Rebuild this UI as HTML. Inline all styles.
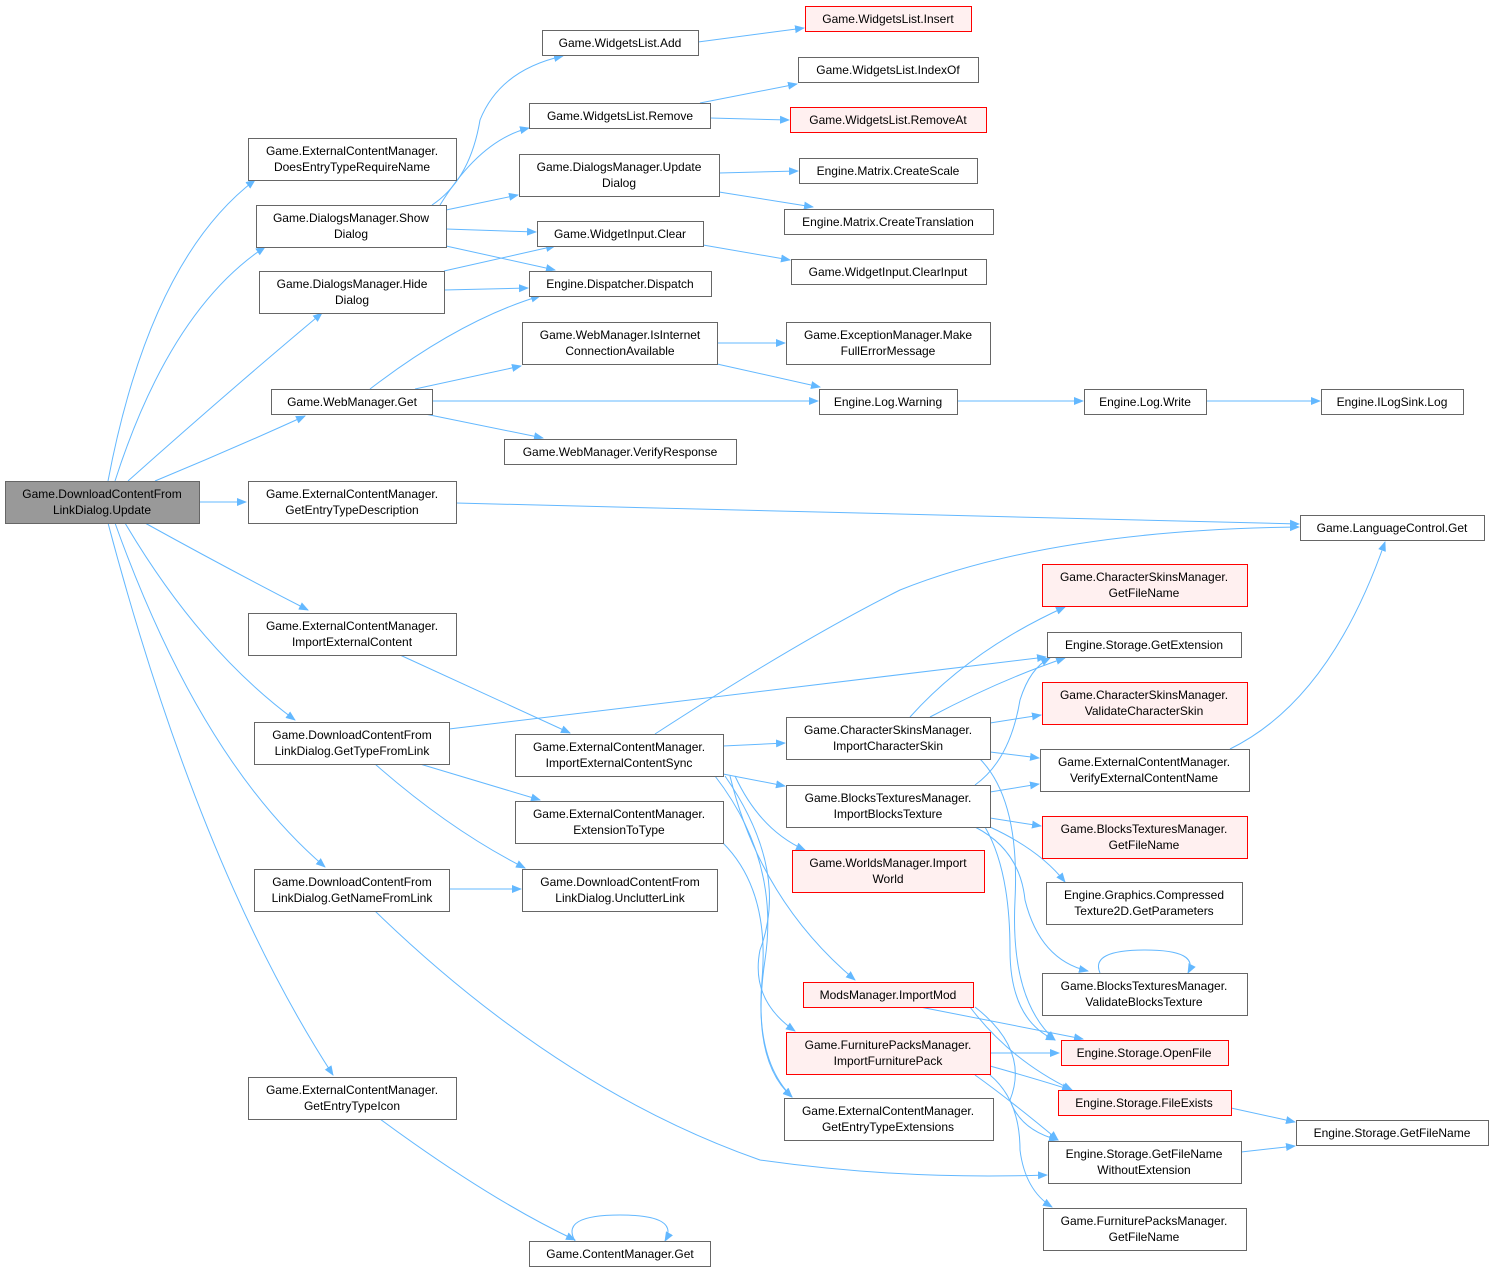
<!DOCTYPE html>
<html><head><meta charset="utf-8"><style>
html,body{margin:0;padding:0;background:#fff;}
svg{display:block;}
text{font-family:"Liberation Sans",Arial,sans-serif;font-size:12px;fill:#000;}
</style></head><body>
<svg width="1494" height="1272" viewBox="0 0 1494 1272" xmlns="http://www.w3.org/2000/svg">
<defs><marker id="a" viewBox="0 0 10 10" refX="9" refY="5" markerWidth="10" markerHeight="10" markerUnits="userSpaceOnUse" orient="auto"><path d="M0,1 L10,5 L0,9 z" fill="#63b8ff"/></marker></defs>
<g fill="none" stroke="#63b8ff" stroke-width="1" marker-end="url(#a)">
<path d="M108,481 Q150,260 255,180"/>
<path d="M115,481 Q170,310 265,247"/>
<path d="M128,481 Q230,390 322,313"/>
<path d="M155,481 Q230,450 305,416"/>
<path d="M199,502 L246,502"/>
<path d="M145,523 Q230,570 308,610"/>
<path d="M125,523 Q200,650 295,720"/>
<path d="M115,523 Q200,760 325,867"/>
<path d="M108,523 Q200,870 333,1075"/>
<path d="M432,205 Q470,180 480,120 Q500,70 563,56"/>
<path d="M440,205 Q480,140 529,128"/>
<path d="M446,210 L518,195"/>
<path d="M446,229 L536,232"/>
<path d="M446,246 Q510,260 555,270"/>
<path d="M444,271 L555,246"/>
<path d="M444,290 L528,288"/>
<path d="M370,389 Q460,320 540,296"/>
<path d="M415,389 L521,366"/>
<path d="M432,401 L818,401"/>
<path d="M425,414 L543,438"/>
<path d="M698,42 L804,28"/>
<path d="M700,103 L797,84"/>
<path d="M710,118 L789,120"/>
<path d="M719,173 L798,171"/>
<path d="M719,192 L813,207"/>
<path d="M703,245 L790,260"/>
<path d="M717,343 L785,343"/>
<path d="M717,364 L820,387"/>
<path d="M957,401 L1083,401"/>
<path d="M1206,401 L1320,401"/>
<path d="M456,503 L1299,524"/>
<path d="M400,655 L570,733"/>
<path d="M449,729 L1046,657"/>
<path d="M420,764 L540,800"/>
<path d="M375,764 Q450,830 525,868"/>
<path d="M449,889 L521,889"/>
<path d="M375,911 Q560,1090 760,1160 Q900,1180 1047,1175"/>
<path d="M380,1119 Q490,1200 575,1240"/>
<path d="M575,1241 Q560,1215 620,1215 Q680,1215 665,1241"/>
<path d="M655,734 Q800,640 900,590 Q1050,530 1299,527"/>
<path d="M723,746 L785,743"/>
<path d="M723,774 L785,786"/>
<path d="M735,776 Q760,830 805,850"/>
<path d="M730,776 Q760,900 855,980"/>
<path d="M725,776 Q790,870 760,950 Q750,1000 795,1031"/>
<path d="M715,776 Q780,860 765,960 Q750,1060 792,1097"/>
<path d="M723,843 Q770,890 762,980 Q755,1060 792,1097"/>
<path d="M910,717 Q970,650 1065,607"/>
<path d="M930,717 Q1000,680 1065,658"/>
<path d="M990,723 L1041,715"/>
<path d="M990,752 L1039,758"/>
<path d="M980,759 Q1020,800 1015,900 Q1010,1000 1055,1040"/>
<path d="M975,785 Q1010,760 1020,700 Q1030,668 1050,658"/>
<path d="M990,792 L1039,784"/>
<path d="M990,818 L1041,826"/>
<path d="M990,827 Q1040,850 1065,882"/>
<path d="M975,827 Q1020,850 1025,900 Q1040,960 1088,971"/>
<path d="M985,827 Q1010,870 1010,950 Q1010,1020 1055,1040"/>
<path d="M1100,973 Q1090,950 1145,950 Q1200,950 1188,973"/>
<path d="M1230,749 Q1330,700 1385,542"/>
<path d="M920,1007 L1083,1039"/>
<path d="M970,1007 Q1010,1060 1072,1090"/>
<path d="M975,1007 Q1030,1050 1010,1100 Q1020,1130 1058,1140"/>
<path d="M990,1053 L1059,1053"/>
<path d="M990,1066 Q1040,1080 1071,1090"/>
<path d="M975,1075 Q1010,1100 1058,1140"/>
<path d="M990,1075 Q1020,1100 1020,1150 Q1025,1190 1052,1207"/>
<path d="M1231,1108 L1295,1122"/>
<path d="M1241,1152 L1295,1146"/>
</g>
<g stroke-width="1">
<rect x="5.5" y="481.5" width="194" height="42" fill="#999" stroke="#666"/>
<g fill="#fff" stroke="#666">
<rect x="248.5" y="138.5" width="208" height="42"/>
<rect x="256.5" y="205.5" width="190" height="42"/>
<rect x="259.5" y="271.5" width="185" height="42"/>
<rect x="271.5" y="389.5" width="161" height="25"/>
<rect x="248.5" y="481.5" width="208" height="42"/>
<rect x="248.5" y="613.5" width="208" height="42"/>
<rect x="254.5" y="722.5" width="195" height="42"/>
<rect x="254.5" y="869.5" width="195" height="42"/>
<rect x="248.5" y="1077.5" width="208" height="42"/>
<rect x="542.5" y="30.5" width="156" height="25"/>
<rect x="529.5" y="103.5" width="181" height="25"/>
<rect x="519.5" y="154.5" width="200" height="42"/>
<rect x="537.5" y="221.5" width="166" height="25"/>
<rect x="529.5" y="271.5" width="182" height="25"/>
<rect x="522.5" y="322.5" width="195" height="42"/>
<rect x="504.5" y="439.5" width="232" height="25"/>
<rect x="515.5" y="734.5" width="208" height="42"/>
<rect x="515.5" y="801.5" width="208" height="42"/>
<rect x="522.5" y="869.5" width="195" height="42"/>
<rect x="529.5" y="1241.5" width="181" height="25"/>
<rect x="798.5" y="57.5" width="180" height="25"/>
<rect x="799.5" y="158.5" width="178" height="25"/>
<rect x="784.5" y="209.5" width="209" height="25"/>
<rect x="791.5" y="259.5" width="195" height="25"/>
<rect x="786.5" y="322.5" width="204" height="42"/>
<rect x="819.5" y="389.5" width="138" height="25"/>
<rect x="786.5" y="717.5" width="204" height="42"/>
<rect x="786.5" y="785.5" width="204" height="42"/>
<rect x="784.5" y="1098.5" width="209" height="42"/>
<rect x="1084.5" y="389.5" width="122" height="25"/>
<rect x="1047.5" y="632.5" width="194" height="25"/>
<rect x="1040.5" y="749.5" width="209" height="42"/>
<rect x="1046.5" y="882.5" width="196" height="42"/>
<rect x="1042.5" y="973.5" width="205" height="42"/>
<rect x="1048.5" y="1141.5" width="193" height="42"/>
<rect x="1043.5" y="1208.5" width="203" height="42"/>
<rect x="1321.5" y="389.5" width="142" height="25"/>
<rect x="1300.5" y="515.5" width="184" height="25"/>
<rect x="1296.5" y="1120.5" width="192" height="25"/>
</g>
<g fill="#fff0f0" stroke="#f00">
<rect x="805.5" y="6.5" width="166" height="25"/>
<rect x="790.5" y="107.5" width="196" height="25"/>
<rect x="792.5" y="850.5" width="192" height="42"/>
<rect x="803.5" y="982.5" width="170" height="25"/>
<rect x="786.5" y="1032.5" width="204" height="42"/>
<rect x="1042.5" y="564.5" width="205" height="42"/>
<rect x="1042.5" y="682.5" width="205" height="42"/>
<rect x="1042.5" y="816.5" width="205" height="42"/>
<rect x="1061.5" y="1040.5" width="167" height="25"/>
<rect x="1058.5" y="1090.5" width="173" height="25"/>
</g>
</g>
<g text-anchor="middle">
<text x="102" y="498">Game.DownloadContentFrom</text><text x="102" y="514">LinkDialog.Update</text>
<text x="352" y="155">Game.ExternalContentManager.</text><text x="352" y="171">DoesEntryTypeRequireName</text>
<text x="351" y="222">Game.DialogsManager.Show</text><text x="351" y="238">Dialog</text>
<text x="352" y="288">Game.DialogsManager.Hide</text><text x="352" y="304">Dialog</text>
<text x="352" y="406">Game.WebManager.Get</text>
<text x="352" y="498">Game.ExternalContentManager.</text><text x="352" y="514">GetEntryTypeDescription</text>
<text x="352" y="630">Game.ExternalContentManager.</text><text x="352" y="646">ImportExternalContent</text>
<text x="352" y="739">Game.DownloadContentFrom</text><text x="352" y="755">LinkDialog.GetTypeFromLink</text>
<text x="352" y="886">Game.DownloadContentFrom</text><text x="352" y="902">LinkDialog.GetNameFromLink</text>
<text x="352" y="1094">Game.ExternalContentManager.</text><text x="352" y="1110">GetEntryTypeIcon</text>
<text x="620" y="47">Game.WidgetsList.Add</text>
<text x="620" y="120">Game.WidgetsList.Remove</text>
<text x="619" y="171">Game.DialogsManager.Update</text><text x="619" y="187">Dialog</text>
<text x="620" y="238">Game.WidgetInput.Clear</text>
<text x="620" y="288">Engine.Dispatcher.Dispatch</text>
<text x="620" y="339">Game.WebManager.IsInternet</text><text x="620" y="355">ConnectionAvailable</text>
<text x="620" y="456">Game.WebManager.VerifyResponse</text>
<text x="619" y="751">Game.ExternalContentManager.</text><text x="619" y="767">ImportExternalContentSync</text>
<text x="619" y="818">Game.ExternalContentManager.</text><text x="619" y="834">ExtensionToType</text>
<text x="620" y="886">Game.DownloadContentFrom</text><text x="620" y="902">LinkDialog.UnclutterLink</text>
<text x="620" y="1258">Game.ContentManager.Get</text>
<text x="888" y="23">Game.WidgetsList.Insert</text>
<text x="888" y="74">Game.WidgetsList.IndexOf</text>
<text x="888" y="124">Game.WidgetsList.RemoveAt</text>
<text x="888" y="175">Engine.Matrix.CreateScale</text>
<text x="888" y="226">Engine.Matrix.CreateTranslation</text>
<text x="888" y="276">Game.WidgetInput.ClearInput</text>
<text x="888" y="339">Game.ExceptionManager.Make</text><text x="888" y="355">FullErrorMessage</text>
<text x="888" y="406">Engine.Log.Warning</text>
<text x="888" y="734">Game.CharacterSkinsManager.</text><text x="888" y="750">ImportCharacterSkin</text>
<text x="888" y="802">Game.BlocksTexturesManager.</text><text x="888" y="818">ImportBlocksTexture</text>
<text x="888" y="867">Game.WorldsManager.Import</text><text x="888" y="883">World</text>
<text x="888" y="999">ModsManager.ImportMod</text>
<text x="888" y="1049">Game.FurniturePacksManager.</text><text x="888" y="1065">ImportFurniturePack</text>
<text x="888" y="1115">Game.ExternalContentManager.</text><text x="888" y="1131">GetEntryTypeExtensions</text>
<text x="1145" y="406">Engine.Log.Write</text>
<text x="1144" y="581">Game.CharacterSkinsManager.</text><text x="1144" y="597">GetFileName</text>
<text x="1144" y="649">Engine.Storage.GetExtension</text>
<text x="1144" y="699">Game.CharacterSkinsManager.</text><text x="1144" y="715">ValidateCharacterSkin</text>
<text x="1144" y="766">Game.ExternalContentManager.</text><text x="1144" y="782">VerifyExternalContentName</text>
<text x="1144" y="833">Game.BlocksTexturesManager.</text><text x="1144" y="849">GetFileName</text>
<text x="1144" y="899">Engine.Graphics.Compressed</text><text x="1144" y="915">Texture2D.GetParameters</text>
<text x="1144" y="990">Game.BlocksTexturesManager.</text><text x="1144" y="1006">ValidateBlocksTexture</text>
<text x="1144" y="1057">Engine.Storage.OpenFile</text>
<text x="1144" y="1107">Engine.Storage.FileExists</text>
<text x="1144" y="1158">Engine.Storage.GetFileName</text><text x="1144" y="1174">WithoutExtension</text>
<text x="1144" y="1225">Game.FurniturePacksManager.</text><text x="1144" y="1241">GetFileName</text>
<text x="1392" y="406">Engine.ILogSink.Log</text>
<text x="1392" y="532">Game.LanguageControl.Get</text>
<text x="1392" y="1137">Engine.Storage.GetFileName</text>
</g>
</svg>
</body></html>
